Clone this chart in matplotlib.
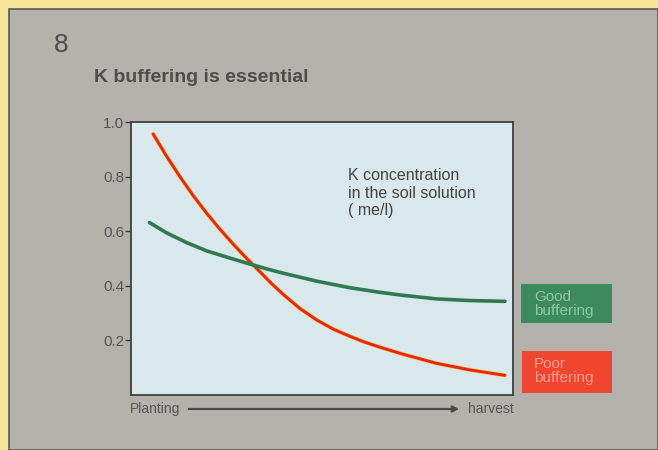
import matplotlib
matplotlib.use("Agg")
import matplotlib.pyplot as plt
from matplotlib.patches import Rectangle, FancyArrowPatch

# Data (time from planting (0) to harvest (1)), K concentration me/l
poor_x = [0.058, 0.093, 0.128, 0.163, 0.198, 0.233, 0.268, 0.303, 0.338, 0.368, 0.399,
          0.442, 0.486, 0.530, 0.573, 0.613, 0.652, 0.713, 0.800, 0.887, 0.979]
poor_y = [0.956, 0.875, 0.800, 0.730, 0.666, 0.607, 0.552, 0.500, 0.451, 0.408, 0.368,
          0.317, 0.275, 0.241, 0.215, 0.193, 0.175, 0.149, 0.116, 0.092, 0.072]
good_x = [0.048, 0.093, 0.146, 0.198, 0.251, 0.303, 0.355, 0.399, 0.486, 0.573,
          0.652, 0.713, 0.800, 0.887, 0.979]
good_y = [0.632, 0.594, 0.558, 0.528, 0.505, 0.483, 0.462, 0.446, 0.417, 0.393,
          0.376, 0.365, 0.352, 0.346, 0.343]
yticks = [0.2, 0.4, 0.6, 0.8, 1.0]
ytick_labels = ["0.2", "0.4", "0.6", "0.8", "1.0"]

W, H = 658, 450
plt.rcParams['font.family'] = ['Liberation Sans', 'DejaVu Sans']
fig = plt.figure(figsize=(W / 100, H / 100), dpi=100)
fig.patch.set_facecolor("#f7e59a")

# gray panel
fig.add_artist(Rectangle((9 / W, 0), 1 - 9 / W, 1 - 9 / H, transform=fig.transFigure,
                         facecolor="#b4b2ad", edgecolor="#5a5a55", linewidth=1.2, zorder=-10))

txtc = "#4d4d4b"
fig.text(54 / W, 1 - 45 / H, "8", fontsize=19, color=txtc, va="center", ha="left")
fig.text(94 / W, 1 - 77 / H, "K buffering is essential", fontsize=14, fontweight="bold",
         color=txtc, va="center", ha="left")

ax = fig.add_axes([131 / W, 1 - 395 / H, (513 - 131) / W, (395 - 122) / H], zorder=5)
ax.set_facecolor("#d8e8ed")
ax.set_xlim(0, 1)
ax.set_ylim(0, 1.0)

# red line with slight yellow halo
ax.plot(poor_x, poor_y, color="#f4d040", lw=3.0, solid_capstyle="round",
        solid_joinstyle="round", zorder=2)
ax.plot(poor_x, poor_y, color="#e6261c", lw=2.1, solid_capstyle="round",
        solid_joinstyle="round", zorder=3)
ax.plot(good_x, good_y, color="#2f7a52", lw=2.6, solid_capstyle="round",
        solid_joinstyle="round", zorder=4)

for s in ax.spines.values():
    s.set_color("#3f3f3d")
    s.set_linewidth(1.3)
ax.set_xticks([])
ax.set_yticks(yticks)
ax.set_yticklabels(ytick_labels)
ax.tick_params(axis="y", direction="out", length=4, width=1, color="#3f3f3d",
               labelsize=11, labelcolor="#555553", pad=1)

ax.text((348 - 131) / 382, (395 - 168) / 273, "K concentration\nin the soil solution\n( me/l)",
        transform=ax.transAxes, fontsize=11.5, color="#444442", va="top", ha="left",
        linespacing=1.22)

# x-axis annotation
fig.text(130 / W, 1 - 409 / H, "Planting", fontsize=10, color="#555553", va="center", ha="left")
fig.text(514 / W, 1 - 409 / H, "harvest", fontsize=10, color="#555553", va="center", ha="right")
fig.add_artist(FancyArrowPatch((186 / W, 1 - 409 / H), (462 / W, 1 - 409 / H),
               transform=fig.transFigure, arrowstyle="-|>", mutation_scale=9,
               color="#4a4a48", lw=1.6))

# legend boxes
fig.add_artist(Rectangle((521 / W, 1 - 323 / H), 91 / W, 39 / H, transform=fig.transFigure,
                         facecolor="#3c8a5e", edgecolor="none", zorder=2))
fig.text(534 / W, 1 - 304 / H, "Good\nbuffering", fontsize=11, color="#8cc9a2",
         va="center", ha="left", linespacing=0.95, zorder=3)
fig.add_artist(Rectangle((522 / W, 1 - 393 / H), 90 / W, 42 / H, transform=fig.transFigure,
                         facecolor="#f04630", edgecolor="none", zorder=2))
fig.text(534 / W, 1 - 371 / H, "Poor\nbuffering", fontsize=11, color="#f9a08c",
         va="center", ha="left", linespacing=0.95, zorder=3)

fig.savefig("out.png", dpi=100, facecolor=fig.get_facecolor())
